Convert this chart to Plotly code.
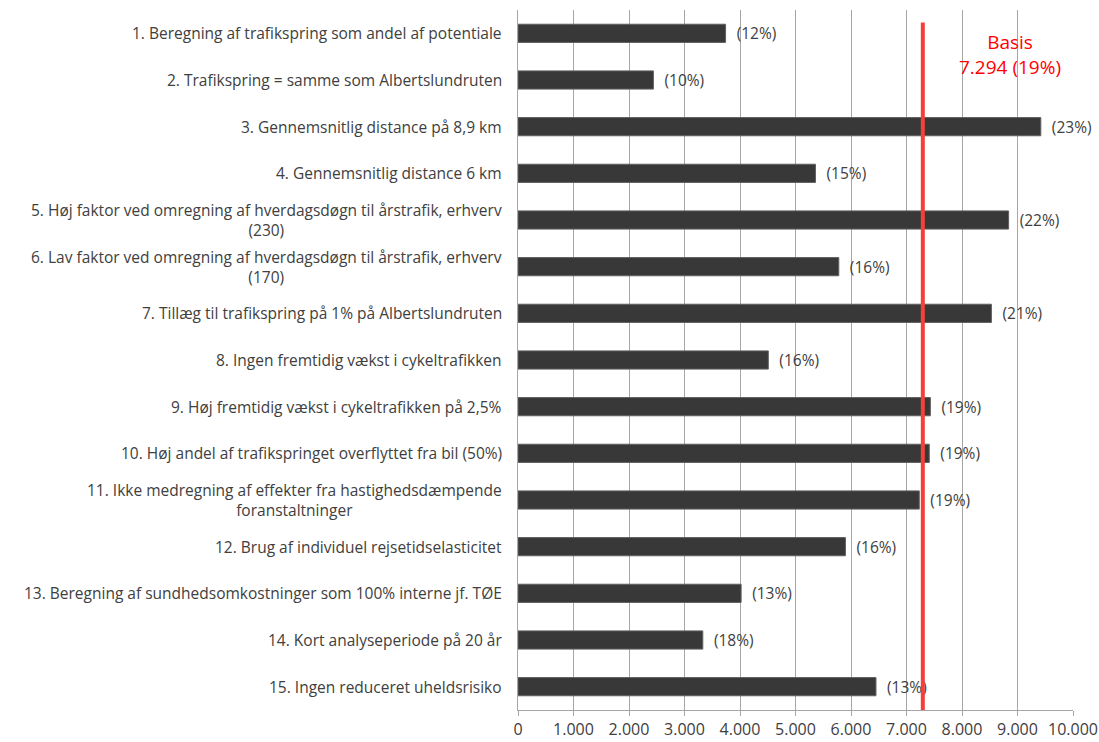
import plotly.graph_objects as go

categories = [
    "1. Beregning af trafikspring som andel af potentiale",
    "2. Trafikspring = samme som Albertslundruten",
    "3. Gennemsnitlig distance på 8,9 km",
    "4. Gennemsnitlig distance 6 km",
    "5. Høj faktor ved omregning af hverdagsdøgn til årstrafik, erhverv<br>(230)",
    "6. Lav faktor ved omregning af hverdagsdøgn til årstrafik, erhverv<br>(170)",
    "7. Tillæg til trafikspring på 1% på Albertslundruten",
    "8. Ingen fremtidig vækst i cykeltrafikken",
    "9. Høj fremtidig vækst i cykeltrafikken på 2,5%",
    "10. Høj andel af trafikspringet overflyttet fra bil (50%)",
    "11. Ikke medregning af effekter fra hastighedsdæmpende<br>foranstaltninger",
    "12. Brug af individuel rejsetidselasticitet",
    "13. Beregning af sundhedsomkostninger som 100% interne jf. TØE",
    "14. Kort analyseperiode på 20 år",
    "15. Ingen reduceret uheldsrisiko",
]
values = [3740, 2440, 9420, 5360, 8840, 5780, 8530, 4510, 7430, 7410, 7230, 5900, 4020, 3330, 6450]
pct_labels = ["(12%)", "(10%)", "(23%)", "(15%)", "(22%)", "(16%)", "(21%)", "(16%)",
              "(19%)", "(19%)", "(19%)", "(16%)", "(13%)", "(18%)", "(13%)"]
basis_value = 7294
basis_label = "Basis<br>7.294 (19%)"
x_ticks = [0, 1000, 2000, 3000, 4000, 5000, 6000, 7000, 8000, 9000, 10000]

FONT = "Open Sans"
TXT = "#404040"

ids = [str(i) for i in range(len(categories))]

fig = go.Figure()
fig.add_trace(go.Bar(
    y=ids, x=values, orientation="h",
    marker=dict(color="#383838", line=dict(color="#606060", width=1)),
    width=0.39,
    text=["\u00a0\u00a0" + t for t in pct_labels],
    textposition="outside", cliponaxis=False, constraintext="none",
    textfont=dict(family=FONT, size=15.5, color=TXT),
))

for i, c in zip(ids, categories):
    fig.add_annotation(x=0, y=i, xref="paper", yref="y", text=c,
                       xanchor="right", yanchor="middle", align="center",
                       xshift=-14, showarrow=False,
                       font=dict(family=FONT, size=15.5, color=TXT))

fig.add_shape(type="line", xref="x", yref="paper", x0=basis_value, x1=basis_value,
              y0=0, y1=0.982, line=dict(color="#f5403a", width=4), layer="above")
fig.add_annotation(x=8870, y=0.937, xref="x", yref="paper", text=basis_label,
                   showarrow=False, xanchor="center", yanchor="middle", align="center",
                   font=dict(family=FONT, size=19, color="#ff0000"))

fig.update_layout(
    width=1099, height=742,
    margin=dict(l=518, r=26, t=10, b=32),
    plot_bgcolor="white", paper_bgcolor="white",
    showlegend=False, bargap=0.5,
    separators=",.",
    font=dict(family=FONT, size=16, color=TXT),
)
fig.update_xaxes(range=[0, 10000], tickvals=x_ticks, tickformat=",.0f",
                 showgrid=True, gridcolor="#a6a6a6", gridwidth=1,
                 showline=True, linecolor="#a6a6a6", linewidth=1,
                 ticks="outside", tickcolor="#a6a6a6", ticklen=5,
                 tickfont=dict(family=FONT, size=16, color=TXT), zeroline=False,
                 automargin=False)
fig.update_yaxes(categoryorder="array", categoryarray=ids, autorange="reversed",
                 showticklabels=False, showline=True, linecolor="#a6a6a6",
                 showgrid=False, zeroline=False, automargin=False)

fig.write_html("out.html")
